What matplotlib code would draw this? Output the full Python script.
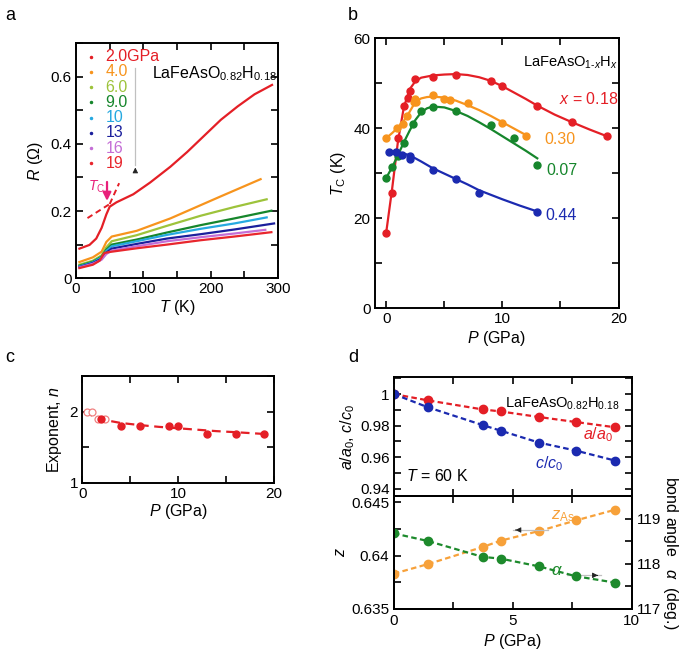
import matplotlib.pyplot as plt
from matplotlib.ticker import MultipleLocator

plt.rcParams['font.family'] = ['Liberation Sans', 'DejaVu Sans']
plt.rcParams['mathtext.fontset'] = 'custom'
plt.rcParams['mathtext.rm'] = 'Liberation Sans'
plt.rcParams['mathtext.it'] = 'Liberation Sans:italic'
plt.rcParams['font.size'] = 11
plt.rcParams['axes.linewidth'] = 1.4

# ---------- panel a : R(T) at several pressures ----------
pressures_a = ['2.0GPa', '4.0', '6.0', '9.0', '10', '13', '16', '19']
colors_a = ['#e41f26', '#f7941d', '#9dc33b', '#16862c', '#26a9e0', '#1b1f9c', '#c46ed6', '#e8262d']
T_a = [
    [5, 20, 30, 38, 45, 50, 60, 85, 110, 140, 165, 190, 215, 240, 265, 291],
    [5, 25, 38, 45, 53, 90, 140, 214, 274],
    [5, 25, 38, 45, 53, 90, 135, 185, 235, 283],
    [5, 25, 38, 45, 53, 90, 135, 185, 235, 290],
    [5, 25, 38, 45, 53, 90, 135, 185, 235, 283],
    [5, 25, 38, 45, 53, 90, 135, 185, 235, 294],
    [5, 25, 38, 45, 53, 90, 135, 185, 235, 281],
    [5, 25, 35, 42, 50, 90, 135, 185, 235, 290],
]
R_a = [
    [0.088, 0.099, 0.118, 0.150, 0.190, 0.213, 0.226, 0.250, 0.285, 0.332, 0.376, 0.424, 0.472, 0.512, 0.548, 0.576],
    [0.048, 0.062, 0.079, 0.108, 0.124, 0.141, 0.178, 0.243, 0.295],
    [0.040, 0.052, 0.068, 0.092, 0.110, 0.128, 0.156, 0.186, 0.212, 0.235],
    [0.037, 0.049, 0.064, 0.085, 0.100, 0.115, 0.136, 0.158, 0.178, 0.201],
    [0.035, 0.047, 0.062, 0.081, 0.095, 0.110, 0.129, 0.147, 0.163, 0.181],
    [0.033, 0.045, 0.058, 0.076, 0.088, 0.102, 0.118, 0.131, 0.145, 0.163],
    [0.032, 0.043, 0.055, 0.072, 0.082, 0.095, 0.110, 0.122, 0.133, 0.144],
    [0.030, 0.040, 0.052, 0.075, 0.078, 0.089, 0.100, 0.113, 0.124, 0.137],
]
tc_dash1 = ([17, 50], [0.179, 0.221])
tc_dash2 = ([50, 64], [0.221, 0.283])

# ---------- panel b : Tc(P) ----------
b_labels = ['x = 0.18', '0.30', '0.07', '0.44']
b_colors = ['#e41f26', '#f7941d', '#16862c', '#1b2ab0']
b_P = [
    [0, 0.5, 1.0, 1.5, 1.87, 2.0, 2.44, 4.0, 6.0, 9.0, 10.0, 13.0, 16.0, 19.0],
    [0, 0.92, 1.44, 1.8, 2.36, 2.5, 2.6, 4.0, 5.0, 5.5, 7.0, 10.0, 12.0],
    [0, 0.5, 1.0, 1.5, 2.3, 3.0, 4.0, 6.0, 9.0, 11.0, 13.0],
    [0.23, 0.86, 1.35, 2.0, 2.0, 4.0, 6.0, 8.0, 13.0],
]
b_Tc = [
    [16.8, 25.7, 37.9, 44.9, 46.8, 48.3, 50.8, 51.4, 51.9, 50.4, 49.3, 44.9, 41.3, 38.2],
    [37.8, 40.0, 41.0, 42.8, 45.8, 46.5, 45.7, 47.3, 46.4, 46.3, 45.5, 41.1, 38.2],
    [29.0, 31.3, 33.9, 36.8, 40.9, 43.8, 44.7, 43.8, 40.8, 37.8, 31.8],
    [34.7, 34.7, 34.1, 33.8, 33.1, 30.7, 28.8, 25.6, 21.4],
]
fit_P = [
    [0, 0.5, 1.0, 1.5, 2.0, 2.5, 3.0, 4.0, 5.0, 6.0, 7.0, 8.0, 9.0, 10.0, 11.0, 12.0, 13.0, 14.5, 16.0, 17.5, 19.0],
    [0, 0.5, 1.0, 1.5, 2.0, 2.5, 3.0, 3.5, 4.0, 5.0, 6.0, 7.0, 8.0, 9.0, 10.0, 11.0, 12.0],
    [0, 0.5, 1.0, 1.5, 2.0, 2.5, 3.0, 3.5, 4.0, 5.0, 6.0, 7.0, 8.0, 9.0, 10.0, 11.0, 12.0, 13.0],
    [0.2, 1.0, 2.0, 3.0, 4.0, 5.0, 6.0, 7.0, 8.0, 9.0, 10.0, 11.5, 13.0],
]
fit_Tc = [
    [17.0, 26.5, 37.0, 44.5, 48.6, 50.4, 51.2, 51.7, 51.9, 52.0, 51.8, 51.3, 50.5, 49.3, 47.9, 46.5, 45.0, 43.0, 41.3, 39.7, 38.2],
    [37.8, 38.9, 40.1, 41.6, 43.6, 45.8, 46.6, 46.9, 47.0, 46.8, 46.1, 45.1, 44.0, 42.7, 41.3, 39.9, 38.5],
    [29.0, 31.3, 34.0, 36.8, 39.4, 41.8, 43.5, 44.4, 44.8, 44.6, 43.8, 42.7, 41.3, 39.8, 38.2, 36.6, 35.0, 33.3],
    [35.0, 34.7, 34.0, 32.6, 31.1, 29.9, 28.7, 27.5, 26.2, 25.2, 24.2, 22.8, 21.5],
]

# ---------- panel c : exponent n ----------
c_P_open = [0.5, 1.0, 1.6, 2.4]
c_n_open = [2.0, 2.0, 1.9, 1.9]
c_P = [2.0, 4.0, 6.0, 9.0, 10.0, 13.0, 16.0, 19.0]
c_n = [1.90, 1.80, 1.80, 1.80, 1.80, 1.69, 1.69, 1.69]
c_fitP = [0.2, 0.6, 1.0, 1.5, 2.0, 3.0, 4.0, 6.0, 8.0, 10.0, 12.0, 14.0, 16.0, 19.0]
c_fitn = [2.00, 1.97, 1.945, 1.92, 1.90, 1.865, 1.84, 1.81, 1.785, 1.765, 1.745, 1.725, 1.71, 1.685]

# ---------- panel d : lattice parameters ----------
d_P = [0, 1.44, 3.73, 4.5, 6.1, 7.66, 9.3]
a_ratio = [1.0, 0.996, 0.9903, 0.989, 0.9855, 0.9823, 0.979]
c_ratio = [1.0, 0.9916, 0.9804, 0.9768, 0.9693, 0.9642, 0.9579]
z_As = [0.6383, 0.6392, 0.6408, 0.6414, 0.6423, 0.6433, 0.6443]
alpha = [118.67, 118.5, 118.15, 118.11, 117.94, 117.72, 117.58]

red = '#e41f26'
blue = '#1b2ab0'
orange = '#f7a13a'
green = '#1d8a2c'

fig = plt.figure(figsize=(6.85, 6.56), dpi=100)


def style(ax):
    ax.tick_params(which='both', direction='in', top=True, right=True, labelsize=11, pad=3)
    ax.tick_params(which='major', length=5, width=1.2)
    ax.tick_params(which='minor', length=5, width=1.2)


def thin_arrow(ax, x0, y0, x1, y1, headlen):
    # grey shaft with a small dark head, like the original
    ax.plot([x0, x1], [y0, y1], color='#c0c0c0', lw=0.9)
    ax.annotate('', xy=(x1, y1), xytext=(x1 - headlen[0], y1 - headlen[1]),
                arrowprops=dict(arrowstyle='-|>', color='#222222', lw=0.6, mutation_scale=8))


# panel a
axa = fig.add_axes([0.111, 0.576, 0.295, 0.358])
for T, R, col in zip(T_a, R_a, colors_a):
    axa.plot(T, R, color=col, lw=1.6)
axa.plot(*tc_dash1, color=red, lw=1.4, ls=(0, (3, 2)))
axa.plot(*tc_dash2, color=red, lw=1.4, ls=(0, (3, 2)))
for i, (lab, col) in enumerate(zip(pressures_a, colors_a)):
    y = 0.66 - 0.0454 * i
    axa.plot([22], [y], 'o', color=col, ms=1.5)
    axa.text(44, y, lab, color=col, fontsize=11.5, va='center', ha='left')
thin_arrow(axa, 88, 0.627, 88, 0.338, (0, 0.03))
axa.annotate('', xy=(46, 0.222), xytext=(46, 0.295),
             arrowprops=dict(arrowstyle='-|>', color='#e8207a', lw=1.6, mutation_scale=12))
axa.text(30, 0.272, r'$T_{\rm C}$', color='#e8207a', fontsize=10, ha='center', va='center')
axa.text(113, 0.61, r'LaFeAsO$_{0.82}$H$_{0.18}$', fontsize=11.5, ha='left', va='center')
axa.set_xlim(0, 300)
axa.set_ylim(0, 0.7)
axa.set_xticks([0, 100, 200, 300])
axa.xaxis.set_minor_locator(MultipleLocator(50))
axa.set_yticks([0, 0.2, 0.4, 0.6])
axa.set_yticklabels(['0', '0.2', '0.4', '0.6'])
axa.yaxis.set_minor_locator(MultipleLocator(0.1))
axa.set_xlabel(r'$T$ (K)', fontsize=11.5, labelpad=1)
axa.set_ylabel(r'$R$ ($\Omega$)', fontsize=11.5, labelpad=4)
style(axa)

# panel b
axb = fig.add_axes([0.547, 0.530, 0.356, 0.412])
for P, Tc, fP, fT, col in zip(b_P, b_Tc, fit_P, fit_Tc, b_colors):
    axb.plot(fP, fT, color=col, lw=1.6)
    axb.plot(P, Tc, 'o', color=col, ms=5)
axb.text(11.8, 54.6, r'LaFeAsO$_{1\text{-}x}$H$_x$', fontsize=10.5, ha='left', va='center')
axb.text(14.9, 46.4, r'$x$ = 0.18', color=b_colors[0], fontsize=11.5, ha='left', va='center')
axb.text(13.6, 37.5, b_labels[1], color=b_colors[1], fontsize=11.5, ha='left', va='center')
axb.text(13.8, 30.7, b_labels[2], color=b_colors[2], fontsize=11.5, ha='left', va='center')
axb.text(13.7, 20.7, b_labels[3], color=b_colors[3], fontsize=11.5, ha='left', va='center')
axb.set_xlim(-1, 20)
axb.set_ylim(0, 60)
axb.set_xticks([0, 10, 20])
axb.xaxis.set_minor_locator(MultipleLocator(5))
axb.set_yticks([0, 20, 40, 60])
axb.yaxis.set_minor_locator(MultipleLocator(10))
axb.set_xlabel(r'$P$ (GPa)', fontsize=11.5, labelpad=2)
axb.set_ylabel(r'$T_{\rm C}$ (K)', fontsize=11.5, labelpad=4)
style(axb)

# panel c
axc = fig.add_axes([0.120, 0.264, 0.280, 0.163])
axc.plot(c_fitP, c_fitn, color=red, lw=1.6, ls=(0, (4, 2.5)))
axc.plot(c_P_open, c_n_open, 'o', mfc='white', mec='#f08080', ms=5, mew=0.9)
axc.plot(c_P, c_n, 'o', color=red, ms=5)
axc.set_xlim(0, 20)
axc.set_ylim(1, 2.5)
axc.set_xticks([0, 10, 20])
axc.xaxis.set_minor_locator(MultipleLocator(5))
axc.set_yticks([1, 2])
axc.yaxis.set_minor_locator(MultipleLocator(0.5))
axc.set_xlabel(r'$P$ (GPa)', fontsize=11.5, labelpad=1)
axc.set_ylabel(r'Exponent, $n$', fontsize=11.5, labelpad=4)
style(axc)

# panel d (top)
axd1 = fig.add_axes([0.575, 0.244, 0.347, 0.181])
axd1.plot(d_P, a_ratio, 'o', color=red, ms=6, ls=(0, (2.5, 1.5)), lw=1.6)
axd1.plot(d_P, c_ratio, 'o', color=blue, ms=6, ls=(0, (2.5, 1.5)), lw=1.6)
axd1.text(4.67, 0.9941, r'LaFeAsO$_{0.82}$H$_{0.18}$', fontsize=10.5, ha='left', va='center')
axd1.text(8.6, 0.974, r'$a$/$a_0$', color=red, fontsize=11.5, ha='center', va='center')
axd1.text(6.55, 0.956, r'$c$/$c_0$', color=blue, fontsize=11.5, ha='center', va='center')
axd1.text(0.5, 0.948, r'$T$ = 60 K', fontsize=11.5, ha='left', va='center')
axd1.set_xlim(0, 10)
axd1.set_ylim(0.9355, 1.0107)
axd1.xaxis.set_major_locator(MultipleLocator(5))
axd1.xaxis.set_minor_locator(MultipleLocator(2.5))
axd1.set_yticks([0.94, 0.96, 0.98, 1.0])
axd1.set_yticklabels(['0.94', '0.96', '0.98', '1'])
axd1.yaxis.set_minor_locator(MultipleLocator(0.01))
axd1.tick_params(labelbottom=False)
axd1.set_ylabel(r'$a$/$a_0$, $c$/$c_0$', fontsize=11.5, labelpad=2)
style(axd1)

# panel d (bottom)
axd2 = fig.add_axes([0.575, 0.072, 0.347, 0.172])
axd2.plot(d_P, z_As, 'o', color=orange, ms=6, ls=(0, (2.5, 1.5)), lw=1.6)
axd2.set_xlim(0, 10)
axd2.set_ylim(0.635, 0.6456)
axd2.xaxis.set_major_locator(MultipleLocator(5))
axd2.xaxis.set_minor_locator(MultipleLocator(2.5))
axd2.set_yticks([0.635, 0.64, 0.645])
axd2.set_yticklabels(['0.635', '0.64', '0.645'])
axd2.yaxis.set_minor_locator(MultipleLocator(0.0025))
axd2.set_xlabel(r'$P$ (GPa)', fontsize=11.5, labelpad=3)
axd2.set_ylabel(r'$z$', fontsize=11.5, labelpad=2)
axd2.tick_params(which='both', direction='in', top=True, labelsize=11, length=5, width=1.2)
axd2.text(7.1, 0.6437, r'$z_{\rm As}$', color=orange, fontsize=12, ha='center', va='center')
thin_arrow(axd2, 6.5, 0.6424, 5.0, 0.6424, (-0.25, 0))
axd2.text(6.85, 0.6386, r'$\alpha$', color=green, fontsize=12, ha='center', va='center')
thin_arrow(axd2, 7.27, 0.63814, 8.7, 0.63814, (0.25, 0))

axd3 = axd2.twinx()
axd3.plot(d_P, alpha, 'o', color=green, ms=6, ls=(0, (2.5, 1.5)), lw=1.6)
axd3.set_ylim(117, 119.5)
axd3.set_yticks([117, 118, 119])
axd3.yaxis.set_minor_locator(MultipleLocator(0.5))
axd3.tick_params(which='both', direction='in', labelsize=11, length=5, width=1.2)
axd3.set_ylabel(r'bond angle   $\alpha$  (deg.)', fontsize=11.5, rotation=270, labelpad=14)

for lab, x, y in [('a', 0.008, 0.99), ('b', 0.508, 0.99), ('c', 0.008, 0.468), ('d', 0.508, 0.468)]:
    fig.text(x, y, lab, fontsize=13, ha='left', va='top')

fig.savefig('out.png', dpi=100)
